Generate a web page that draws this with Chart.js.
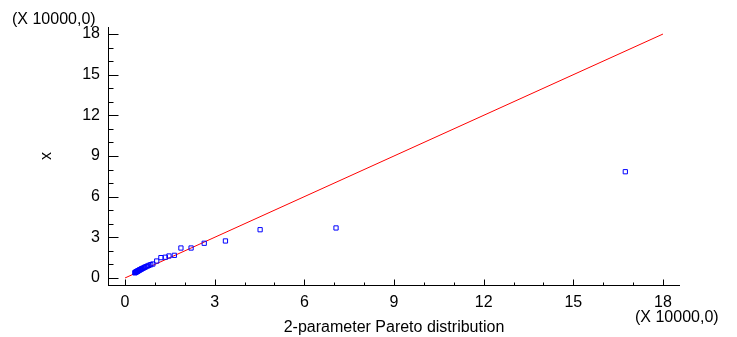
<!DOCTYPE html>
<html><head><meta charset="utf-8">
<script src="https://cdn.jsdelivr.net/npm/chart.js@4/dist/chart.umd.min.js"></script>
<style>
html,body{margin:0;padding:0;background:#fff;}
#wrap{position:relative;width:737px;height:337px;overflow:hidden;}
canvas{position:absolute;left:0;top:0;}
.mult{position:absolute;font:16px "Liberation Sans",Arial,sans-serif;color:#000;line-height:19px;white-space:nowrap;}
</style></head><body>
<div id="wrap"><canvas id="c" width="737" height="337"></canvas>
<div class="mult" style="left:12px;top:9px">(X 10000,0)</div>
<div class="mult" style="left:635px;top:307px">(X 10000,0)</div>
</div>
<script>
// Pareto quantiles (x) and observed sorted data (y), in units of 10000
const paretoQuantiles = [0.33,0.34,0.35,0.36,0.37,0.39,0.40,0.42,0.43,0.45,0.47,0.49,0.51,0.54,0.56,0.59,0.63,0.66,0.70,0.75,0.80,0.86,
  0.93,1.06,1.20,1.35,1.47,1.65,1.87,2.21,2.65,3.36,4.52,7.06,16.74];
const observedX = [0.38,0.40,0.41,0.43,0.44,0.46,0.48,0.50,0.52,0.54,0.57,0.59,0.62,0.65,0.68,0.71,0.75,0.79,0.83,0.88,0.93,0.98,
  1.03,1.25,1.50,1.53,1.62,1.67,2.21,2.21,2.56,2.73,3.56,3.69,7.84];
const refLineX = [0, 18];
const refLineY = [0, 18];
const xTickLabels = [0,3,6,9,12,15,18];
const yTickLabels = [0,3,6,9,12,15,18];
const minorTicks = [0,1,2,3,4,5,6,7,8,9,10,11,12,13,14,15,16,17,18];

const FONT = '"Liberation Sans", Arial, sans-serif';
const points = paretoQuantiles.map((q,i)=>({x:q,y:observedX[i]}));
const line = refLineX.map((v,i)=>({x:v,y:refLineY[i]}));

const axisPlugin = {
  id:'axisTicks',
  afterDraw(chart){
    const {ctx, chartArea:a, scales:{x,y}} = chart;
    ctx.save();
    ctx.strokeStyle='#000'; ctx.lineWidth=1;
    const by = Math.round(a.bottom)+0.5, lx = Math.round(a.left)+0.5;
    ctx.beginPath();
    ctx.moveTo(Math.round(a.left), by); ctx.lineTo(Math.round(a.right), by);
    ctx.moveTo(lx, Math.round(a.top)); ctx.lineTo(lx, Math.round(a.bottom)+1);
    minorTicks.forEach(v=>{
      const major = xTickLabels.includes(v);
      const px = Math.round(x.getPixelForValue(v))+0.5;
      ctx.moveTo(px, by); ctx.lineTo(px, by-(major?6:3));
      const py = Math.round(y.getPixelForValue(v))+0.5;
      ctx.moveTo(lx, py); ctx.lineTo(lx+(yTickLabels.includes(v)?10:5), py);
    });
    ctx.stroke();
    ctx.restore();
  }
};

new Chart(document.getElementById('c'), {
  type:'scatter',
  data:{datasets:[
    {type:'scatter', data:points, showLine:false, pointStyle:'rect', pointRadius:3, pointHoverRadius:3,
     borderColor:'#0000ff', backgroundColor:'rgba(0,0,0,0)', pointBorderWidth:1},
    {type:'line', data:line, borderColor:'#ff0000', borderWidth:1, pointRadius:0, fill:false}
  ]},
  options:{
    responsive:false, devicePixelRatio:1, animation:false,
    layout:{padding:{top:27,right:57,left:0,bottom:0}},
    plugins:{legend:{display:false}, tooltip:{enabled:false}},
    scales:{
      x:{type:'linear', min:-0.57, max:18.57,
        grid:{display:false, drawTicks:false}, border:{display:false},
        afterBuildTicks:s=>{s.ticks = xTickLabels.map(v=>({value:v}));},
        afterFit:s=>{s.height=52;},
        ticks:{padding:8, color:'#000', font:{size:16,family:FONT}, maxRotation:0, autoSkip:false},
        title:{display:true, text:'2-parameter Pareto distribution', color:'#000', font:{size:16,family:FONT}, padding:{top:0,bottom:0}}
      },
      y:{type:'linear', min:-0.52, max:18.52,
        grid:{display:false, drawTicks:false}, border:{display:false},
        afterBuildTicks:s=>{s.ticks = yTickLabels.map(v=>({value:v}));},
        afterFit:s=>{s.width=108;},
        ticks:{padding:8, color:'#000', font:{size:16,family:FONT}, autoSkip:false},
        title:{display:true, text:'x', color:'#000', font:{size:16,family:FONT}, padding:{top:37,bottom:0}}
      }
    }
  },
  plugins:[axisPlugin]
});
</script>
</body></html>
